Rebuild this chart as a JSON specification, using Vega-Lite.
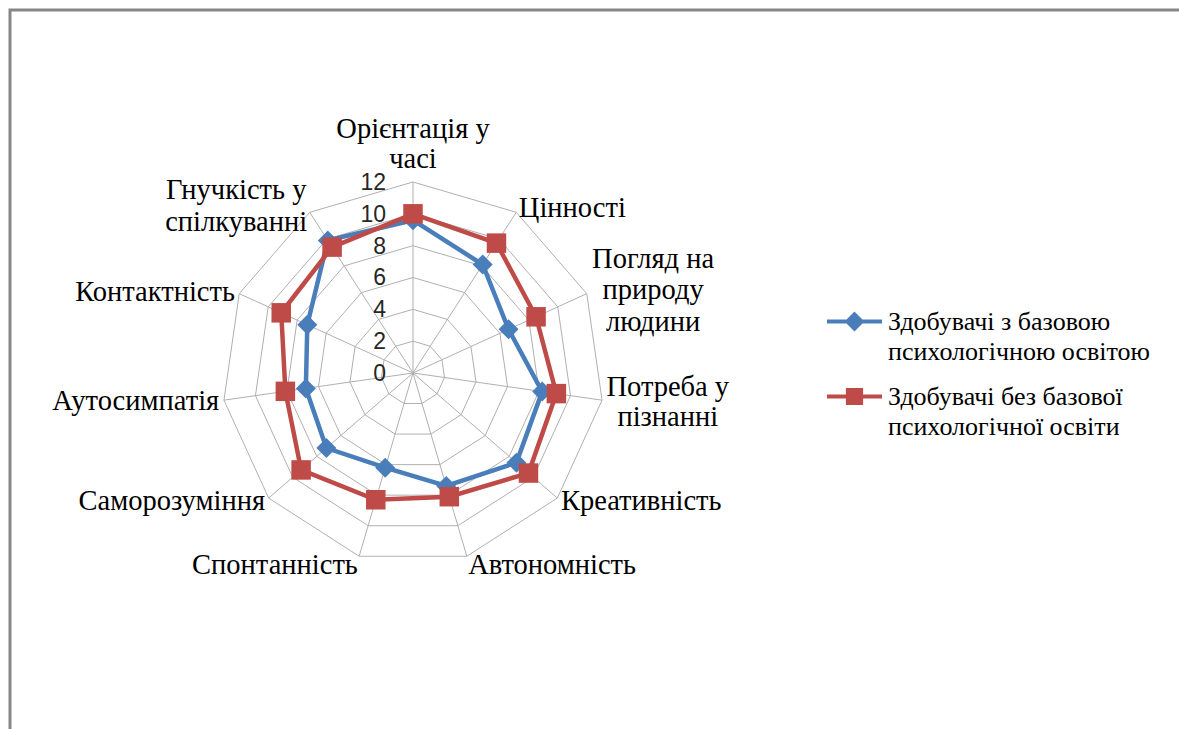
{
  "$schema": "https://vega.github.io/schema/vega-lite/v6.json",
  "width": 1180,
  "height": 730,
  "autosize": {"type": "none"},
  "padding": {"left": 10, "top": 10, "right": -11, "bottom": -11},
  "background": "white",
  "config": {"view": {"stroke": "#878787", "strokeWidth": 3}},
  "datasets": {
    "cats": [
      {"idx": 0, "label": "Орієнтація у|часі"},
      {"idx": 1, "label": "Цінності"},
      {"idx": 2, "label": "Погляд на|природу|людини"},
      {"idx": 3, "label": "Потреба у|пізнанні"},
      {"idx": 4, "label": "Креативність"},
      {"idx": 5, "label": "Автономність"},
      {"idx": 6, "label": "Спонтанність"},
      {"idx": 7, "label": "Саморозуміння"},
      {"idx": 8, "label": "Аутосимпатія"},
      {"idx": 9, "label": "Контактність"},
      {"idx": 10, "label": "Гнучкість у|спілкуванні"}
    ],
    "ticks": [{"t": 0}, {"t": 2}, {"t": 4}, {"t": 6}, {"t": 8}, {"t": 10}, {"t": 12}],
    "vals": [
      {"idx": 0, "series": "Здобувачі з базовою психологічною освітою", "value": 9.6},
      {"idx": 1, "series": "Здобувачі з базовою психологічною освітою", "value": 8.1},
      {"idx": 2, "series": "Здобувачі з базовою психологічною освітою", "value": 6.6},
      {"idx": 3, "series": "Здобувачі з базовою психологічною освітою", "value": 8.2},
      {"idx": 4, "series": "Здобувачі з базовою психологічною освітою", "value": 8.6},
      {"idx": 5, "series": "Здобувачі з базовою психологічною освітою", "value": 7.4},
      {"idx": 6, "series": "Здобувачі з базовою психологічною освітою", "value": 6.2},
      {"idx": 7, "series": "Здобувачі з базовою психологічною освітою", "value": 7.2},
      {"idx": 8, "series": "Здобувачі з базовою психологічною освітою", "value": 6.8},
      {"idx": 9, "series": "Здобувачі з базовою психологічною освітою", "value": 7.3},
      {"idx": 10, "series": "Здобувачі з базовою психологічною освітою", "value": 9.9},
      {"idx": 0, "series": "Здобувачі без базової психологічної освіти", "value": 10.0},
      {"idx": 1, "series": "Здобувачі без базової психологічної освіти", "value": 9.7},
      {"idx": 2, "series": "Здобувачі без базової психологічної освіти", "value": 8.5},
      {"idx": 3, "series": "Здобувачі без базової психологічної освіти", "value": 9.1},
      {"idx": 4, "series": "Здобувачі без базової психологічної освіти", "value": 9.6},
      {"idx": 5, "series": "Здобувачі без базової психологічної освіти", "value": 8.1},
      {"idx": 6, "series": "Здобувачі без базової психологічної освіти", "value": 8.3},
      {"idx": 7, "series": "Здобувачі без базової психологічної освіти", "value": 9.3},
      {"idx": 8, "series": "Здобувачі без базової психологічної освіти", "value": 8.1},
      {"idx": 9, "series": "Здобувачі без базової психологічної освіти", "value": 9.1},
      {"idx": 10, "series": "Здобувачі без базової психологічної освіти", "value": 9.4}
    ]
  },
  "layer": [
    {
      "data": {"name": "cats"},
      "transform": [
        {"calculate": "[2,4,6,8,10,12]", "as": "lv"},
        {"flatten": ["lv"]},
        {"calculate": "datum.lv*sin(2*PI*datum.idx/11)", "as": "gx"},
        {"calculate": "datum.lv*cos(2*PI*datum.idx/11)", "as": "gy"}
      ],
      "mark": {"type": "line", "interpolate": "linear-closed", "stroke": "#b0b0b0", "strokeWidth": 1},
      "encoding": {
        "x": {"field": "gx", "type": "quantitative", "scale": {"domain": [-25.319, 48.817], "nice": false, "zero": false}, "axis": null},
        "y": {"field": "gy", "type": "quantitative", "scale": {"domain": [-23.058, 22.806], "nice": false, "zero": false}, "axis": null},
        "detail": {"field": "lv", "type": "nominal"},
        "order": {"field": "idx", "type": "quantitative"}
      }
    },
    {
      "data": {"name": "cats"},
      "transform": [
        {"calculate": "12*sin(2*PI*datum.idx/11)", "as": "sx"},
        {"calculate": "12*cos(2*PI*datum.idx/11)", "as": "sy"}
      ],
      "mark": {"type": "rule", "stroke": "#b0b0b0", "strokeWidth": 1},
      "encoding": {
        "x": {"field": "sx", "type": "quantitative", "scale": {"domain": [-25.319, 48.817], "nice": false, "zero": false}, "axis": null},
        "y": {"field": "sy", "type": "quantitative", "scale": {"domain": [-23.058, 22.806], "nice": false, "zero": false}, "axis": null},
        "x2": {"datum": 0},
        "y2": {"datum": 0}
      }
    },
    {
      "data": {"name": "ticks"},
      "mark": {"type": "text", "align": "right", "baseline": "middle", "dx": -27, "dy": 1, "font": "Liberation Sans", "fontSize": 23, "fill": "#262626"},
      "encoding": {
        "x": {"datum": 0, "type": "quantitative", "scale": {"domain": [-25.319, 48.817], "nice": false, "zero": false}, "axis": null},
        "y": {"field": "t", "type": "quantitative", "scale": {"domain": [-23.058, 22.806], "nice": false, "zero": false}, "axis": null},
        "text": {"field": "t", "type": "quantitative"}
      }
    },
    {
      "data": {"name": "vals"},
      "transform": [
        {"calculate": "datum.value*sin(2*PI*datum.idx/11)", "as": "px"},
        {"calculate": "datum.value*cos(2*PI*datum.idx/11)", "as": "py"}
      ],
      "mark": {"type": "line", "interpolate": "linear-closed", "strokeWidth": 4.5},
      "encoding": {
        "x": {"field": "px", "type": "quantitative", "scale": {"domain": [-25.319, 48.817], "nice": false, "zero": false}, "axis": null},
        "y": {"field": "py", "type": "quantitative", "scale": {"domain": [-23.058, 22.806], "nice": false, "zero": false}, "axis": null},
        "order": {"field": "idx", "type": "quantitative"},
        "color": {
          "field": "series", "type": "nominal",
          "scale": {"domain": ["Здобувачі з базовою психологічною освітою", "Здобувачі без базової психологічної освіти"], "range": ["#4a7ebb", "#be4b48"]},
          "legend": {
            "orient": "none", "legendX": 815, "legendY": 282, "title": null, "padding": 0,
            "symbolType": "M-1,0H1", "symbolSize": 3025, "symbolStrokeWidth": 4,
            "labelFont": "Liberation Serif", "labelFontSize": 26, "labelColor": "#000000", "labelLimit": 500, "labelOffset": 4,
            "labelExpr": "datum.label == 'Здобувачі з базовою психологічною освітою' ? ['Здобувачі з базовою', 'психологічною освітою'] : ['Здобувачі без базової', 'психологічної освіти']",
            "rowPadding": 2,
            "encode": {
              "symbols": {"update": {
                "shape": {"signal": "datum.value == 'Здобувачі з базовою психологічною освітою' ? 'M-1,0H1M0,-0.26L0.26,0L0,0.26L-0.26,0Z' : 'M-1,0H1M-0.24,-0.24H0.24V0.24H-0.24Z'"},
                "fill": {"scale": "color", "field": "value"},
                "stroke": {"scale": "color", "field": "value"},
                "opacity": {"value": 1}
              }},
              "labels": {"update": {"lineHeight": {"value": 30}}}
            }
          }
        }
      }
    },
    {
      "data": {"name": "vals"},
      "transform": [
        {"filter": "datum.series == 'Здобувачі з базовою психологічною освітою'"},
        {"calculate": "datum.value*sin(2*PI*datum.idx/11)", "as": "px"},
        {"calculate": "datum.value*cos(2*PI*datum.idx/11)", "as": "py"}
      ],
      "mark": {"type": "point", "filled": true, "opacity": 1, "size": 400, "shape": "diamond", "fill": "#4a7ebb"},
      "encoding": {
        "x": {"field": "px", "type": "quantitative", "scale": {"domain": [-25.319, 48.817], "nice": false, "zero": false}, "axis": null},
        "y": {"field": "py", "type": "quantitative", "scale": {"domain": [-23.058, 22.806], "nice": false, "zero": false}, "axis": null}
      }
    },
    {
      "data": {"name": "vals"},
      "transform": [
        {"filter": "datum.series == 'Здобувачі без базової психологічної освіти'"},
        {"calculate": "datum.value*sin(2*PI*datum.idx/11)", "as": "px"},
        {"calculate": "datum.value*cos(2*PI*datum.idx/11)", "as": "py"}
      ],
      "mark": {"type": "point", "filled": true, "opacity": 1, "size": 380, "shape": "square", "fill": "#be4b48"},
      "encoding": {
        "x": {"field": "px", "type": "quantitative", "scale": {"domain": [-25.319, 48.817], "nice": false, "zero": false}, "axis": null},
        "y": {"field": "py", "type": "quantitative", "scale": {"domain": [-23.058, 22.806], "nice": false, "zero": false}, "axis": null}
      }
    },
    {
      "data": {"name": "cats"},
      "transform": [
        {"filter": "datum.idx == 0"},
        {"calculate": "12.3*sin(2*PI*datum.idx/11)", "as": "lx"},
        {"calculate": "12.3*cos(2*PI*datum.idx/11)", "as": "ly"}
      ],
      "mark": {"type": "text", "align": "center", "baseline": "middle", "dy": -48, "lineHeight": 30, "lineBreak": "|", "font": "Liberation Serif", "fontSize": 28.5, "fill": "#000000"},
      "encoding": {
        "x": {"field": "lx", "type": "quantitative", "scale": {"domain": [-25.319, 48.817], "nice": false, "zero": false}, "axis": null},
        "y": {"field": "ly", "type": "quantitative", "scale": {"domain": [-23.058, 22.806], "nice": false, "zero": false}, "axis": null},
        "text": {"field": "label", "type": "nominal"}
      }
    },
    {
      "data": {"name": "cats"},
      "transform": [
        {"filter": "datum.idx == 1 || datum.idx == 4"},
        {"calculate": "12.3*sin(2*PI*datum.idx/11)", "as": "lx"},
        {"calculate": "12.3*cos(2*PI*datum.idx/11)", "as": "ly"}
      ],
      "mark": {"type": "text", "align": "left", "baseline": "middle", "font": "Liberation Serif", "fontSize": 28.5, "fill": "#000000"},
      "encoding": {
        "x": {"field": "lx", "type": "quantitative", "scale": {"domain": [-25.319, 48.817], "nice": false, "zero": false}, "axis": null},
        "y": {"field": "ly", "type": "quantitative", "scale": {"domain": [-23.058, 22.806], "nice": false, "zero": false}, "axis": null},
        "text": {"field": "label", "type": "nominal"}
      }
    },
    {
      "data": {"name": "cats"},
      "transform": [
        {"filter": "datum.idx == 5"},
        {"calculate": "12.3*sin(2*PI*datum.idx/11)", "as": "lx"},
        {"calculate": "12.3*cos(2*PI*datum.idx/11)", "as": "ly"}
      ],
      "mark": {"type": "text", "align": "left", "baseline": "middle", "dy": 4, "font": "Liberation Serif", "fontSize": 28.5, "fill": "#000000"},
      "encoding": {
        "x": {"field": "lx", "type": "quantitative", "scale": {"domain": [-25.319, 48.817], "nice": false, "zero": false}, "axis": null},
        "y": {"field": "ly", "type": "quantitative", "scale": {"domain": [-23.058, 22.806], "nice": false, "zero": false}, "axis": null},
        "text": {"field": "label", "type": "nominal"}
      }
    },
    {
      "data": {"name": "cats"},
      "transform": [
        {"filter": "datum.idx == 6"},
        {"calculate": "12.3*sin(2*PI*datum.idx/11)", "as": "lx"},
        {"calculate": "12.3*cos(2*PI*datum.idx/11)", "as": "ly"}
      ],
      "mark": {"type": "text", "align": "right", "baseline": "middle", "dy": 4, "font": "Liberation Serif", "fontSize": 28.5, "fill": "#000000"},
      "encoding": {
        "x": {"field": "lx", "type": "quantitative", "scale": {"domain": [-25.319, 48.817], "nice": false, "zero": false}, "axis": null},
        "y": {"field": "ly", "type": "quantitative", "scale": {"domain": [-23.058, 22.806], "nice": false, "zero": false}, "axis": null},
        "text": {"field": "label", "type": "nominal"}
      }
    },
    {
      "data": {"name": "cats"},
      "transform": [
        {"filter": "datum.idx >= 7 && datum.idx <= 9"},
        {"calculate": "12.3*sin(2*PI*datum.idx/11)", "as": "lx"},
        {"calculate": "12.3*cos(2*PI*datum.idx/11)", "as": "ly"}
      ],
      "mark": {"type": "text", "align": "right", "baseline": "middle", "font": "Liberation Serif", "fontSize": 28.5, "fill": "#000000"},
      "encoding": {
        "x": {"field": "lx", "type": "quantitative", "scale": {"domain": [-25.319, 48.817], "nice": false, "zero": false}, "axis": null},
        "y": {"field": "ly", "type": "quantitative", "scale": {"domain": [-23.058, 22.806], "nice": false, "zero": false}, "axis": null},
        "text": {"field": "label", "type": "nominal"}
      }
    },
    {
      "data": {"name": "cats"},
      "transform": [
        {"filter": "datum.idx == 2"},
        {"calculate": "12.3*sin(2*PI*datum.idx/11)", "as": "lx"},
        {"calculate": "12.3*cos(2*PI*datum.idx/11)", "as": "ly"}
      ],
      "mark": {"type": "text", "align": "center", "baseline": "middle", "dx": 62, "dy": -33, "lineHeight": 31.5, "lineBreak": "|", "font": "Liberation Serif", "fontSize": 28.5, "fill": "#000000"},
      "encoding": {
        "x": {"field": "lx", "type": "quantitative", "scale": {"domain": [-25.319, 48.817], "nice": false, "zero": false}, "axis": null},
        "y": {"field": "ly", "type": "quantitative", "scale": {"domain": [-23.058, 22.806], "nice": false, "zero": false}, "axis": null},
        "text": {"field": "label", "type": "nominal"}
      }
    },
    {
      "data": {"name": "cats"},
      "transform": [
        {"filter": "datum.idx == 3"},
        {"calculate": "12.3*sin(2*PI*datum.idx/11)", "as": "lx"},
        {"calculate": "12.3*cos(2*PI*datum.idx/11)", "as": "ly"}
      ],
      "mark": {"type": "text", "align": "center", "baseline": "middle", "dx": 61, "dy": -14, "lineHeight": 30, "lineBreak": "|", "font": "Liberation Serif", "fontSize": 28.5, "fill": "#000000"},
      "encoding": {
        "x": {"field": "lx", "type": "quantitative", "scale": {"domain": [-25.319, 48.817], "nice": false, "zero": false}, "axis": null},
        "y": {"field": "ly", "type": "quantitative", "scale": {"domain": [-23.058, 22.806], "nice": false, "zero": false}, "axis": null},
        "text": {"field": "label", "type": "nominal"}
      }
    },
    {
      "data": {"name": "cats"},
      "transform": [
        {"filter": "datum.idx == 10"},
        {"calculate": "12.3*sin(2*PI*datum.idx/11)", "as": "lx"},
        {"calculate": "12.3*cos(2*PI*datum.idx/11)", "as": "ly"}
      ],
      "mark": {"type": "text", "align": "center", "baseline": "middle", "dx": -71, "dy": -18, "lineHeight": 32, "lineBreak": "|", "font": "Liberation Serif", "fontSize": 28.5, "fill": "#000000"},
      "encoding": {
        "x": {"field": "lx", "type": "quantitative", "scale": {"domain": [-25.319, 48.817], "nice": false, "zero": false}, "axis": null},
        "y": {"field": "ly", "type": "quantitative", "scale": {"domain": [-23.058, 22.806], "nice": false, "zero": false}, "axis": null},
        "text": {"field": "label", "type": "nominal"}
      }
    }
  ]
}
